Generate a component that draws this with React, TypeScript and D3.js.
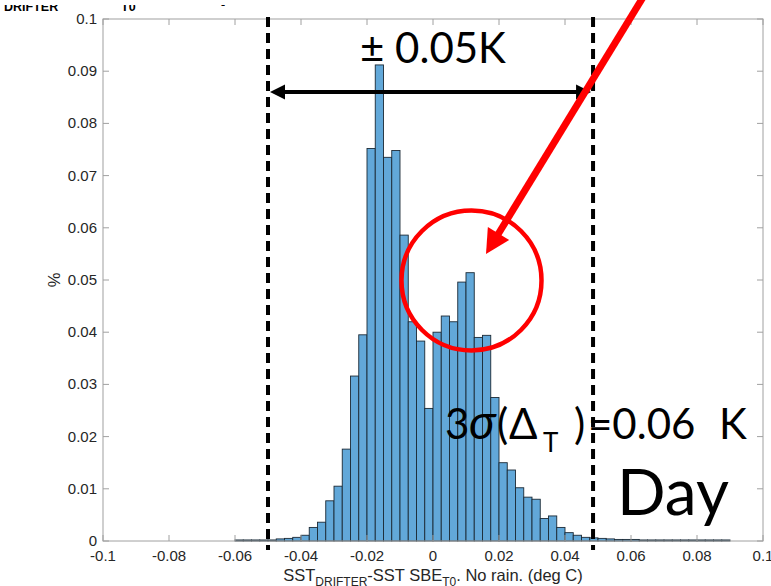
import React from 'react';
import * as d3 from 'd3';

const binStarts = [
  -0.06, -0.0575, -0.055, -0.0525, -0.05, -0.0475, -0.045, -0.0425, -0.04, -0.0375,
  -0.035, -0.0325, -0.03, -0.0275, -0.025, -0.0225, -0.02, -0.0175, -0.015, -0.0125,
  -0.01, -0.0075, -0.005, -0.0025, 0, 0.0025, 0.005, 0.0075, 0.01, 0.0125,
  0.015, 0.0175, 0.02, 0.0225, 0.025, 0.0275, 0.03, 0.0325, 0.035, 0.0375,
  0.04, 0.0425, 0.045, 0.0475, 0.05, 0.0525, 0.055, 0.0575, 0.06, 0.0625,
  0.065, 0.0675, 0.07, 0.0725, 0.075, 0.0775, 0.08, 0.0825, 0.085, 0.0875,
];
const binWidth = 0.0025;
const percentValues = [
  0.0002, 0.0002, 0.0002, 0.0002, 0.0002, 0.0004, 0.0005, 0.0007, 0.0011, 0.0026,
  0.0036, 0.0077, 0.0105, 0.0176, 0.0316, 0.0395, 0.0752, 0.0912, 0.0735, 0.0748,
  0.0586, 0.042, 0.0383, 0.0254, 0.04, 0.0431, 0.042, 0.0496, 0.0514, 0.039,
  0.0394, 0.0275, 0.015, 0.0136, 0.0102, 0.0084, 0.008, 0.0043, 0.0048, 0.0026,
  0.0016, 0.0011, 0.0007, 0.0006, 0.0005, 0.0004, 0.0003, 0.0003, 0.0003, 0.0002,
  0.0002, 0.0002, 0.0002, 0.0002, 0.0002, 0.0002, 0.0002, 0.0002, 0.0002, 0.0002,
];
const xTicks = [-0.1, -0.08, -0.06, -0.04, -0.02, 0, 0.02, 0.04, 0.06, 0.08, 0.1];
const xTickLabels = ['-0.1', '-0.08', '-0.06', '-0.04', '-0.02', '0', '0.02', '0.04', '0.06', '0.08', '0.1'];
const yTicks = [0, 0.01, 0.02, 0.03, 0.04, 0.05, 0.06, 0.07, 0.08, 0.09, 0.1];
const yTickLabels = ['0', '0.01', '0.02', '0.03', '0.04', '0.05', '0.06', '0.07', '0.08', '0.09', '0.1'];
const limitLines = [-0.05, 0.0485];

const W = 771;
const H = 586;
const L = 103, R = 763, T = 19, B = 541;

export default function App() {
  const x = d3.scaleLinear().domain([-0.1, 0.1]).range([L, R]);
  const y = d3.scaleLinear().domain([0, 0.1]).range([B, T]);
  const tickFont = "'Liberation Sans', Arial, Helvetica, sans-serif";
  const annFont = "Lato, 'Open Sans', sans-serif";
  const frame = '#a0a0a0';
  const tickLen = 6;

  // red arrow geometry
  const rStart: [number, number] = [645, -6];
  const rTip: [number, number] = [486, 254];
  const dx = rTip[0] - rStart[0], dy = rTip[1] - rStart[1];
  const len = Math.hypot(dx, dy);
  const ux = dx / len, uy = dy / len;
  const headL = 24, headW = 12.5;
  const base: [number, number] = [rTip[0] - ux * headL, rTip[1] - uy * headL];
  const p1 = [base[0] - uy * headW, base[1] + ux * headW];
  const p2 = [base[0] + uy * headW, base[1] - ux * headW];

  const ay = 92;
  const ax1 = x(limitLines[0]) + 2;
  const ax2 = x(limitLines[1]) - 2;
  const ahL = 15, ahW = 7.5;

  return (
    <svg width={W} height={H} style={{ position: 'absolute', left: 0, top: 0, background: '#fff' }}>
      <rect x={0} y={0} width={W} height={H} fill="#fff" />
      {/* title remnants cut at top */}
      <g fontFamily={tickFont} fontWeight="bold" fill="#000">
        <text x={4} y={11} fontSize={12.5}>DRIFTER</text>
        <text x={121} y={11} fontSize={12.5}>T0</text>
        <text x={221} y={9} fontSize={12.5}>-</text>
      </g>
      <rect x={0} y={0} width={W} height={5} fill="#fff" />

      {/* bars */}
      <g>
        {binStarts.map((b, i) => (
          <rect
            key={i}
            x={x(b)}
            y={y(percentValues[i])}
            width={x(b + binWidth) - x(b)}
            height={y(0) - y(percentValues[i])}
            fill="#62a8d9"
            stroke="#1c2a36"
            strokeWidth={0.9}
          />
        ))}
      </g>

      {/* frame */}
      <rect x={L} y={T} width={R - L} height={B - T} fill="none" stroke={frame} strokeWidth={1} />
      <g stroke={frame} strokeWidth={1}>
        {xTicks.map((t, i) => (
          <g key={i}>
            <line x1={x(t)} x2={x(t)} y1={B} y2={B - tickLen} />
            <line x1={x(t)} x2={x(t)} y1={T} y2={T + tickLen} />
          </g>
        ))}
        {yTicks.map((t, i) => (
          <g key={i}>
            <line x1={L} x2={L + tickLen} y1={y(t)} y2={y(t)} />
            <line x1={R} x2={R - tickLen} y1={y(t)} y2={y(t)} />
          </g>
        ))}
      </g>
      <g fontFamily={tickFont} fontSize={15} fill="#262626">
        {xTicks.map((t, i) => (
          <text key={i} x={x(t)} y={561} textAnchor="middle">{xTickLabels[i]}</text>
        ))}
        {yTicks.map((t, i) => (
          <text key={i} x={97} y={y(t) + 5} textAnchor="end">{yTickLabels[i]}</text>
        ))}
      </g>
      <text
        transform={`translate(60, ${(T + B) / 2}) rotate(-90)`}
        textAnchor="middle"
        fontFamily={tickFont}
        fontSize={16.5}
        fill="#262626"
      >%</text>
      <text x={433} y={581} textAnchor="middle" fontFamily={tickFont} fontSize={16.5} fill="#262626">
        SST<tspan fontSize={12} dy={5}>DRIFTER</tspan>
        <tspan dy={-5}>-SST SBE</tspan>
        <tspan fontSize={12} dy={5}>T0</tspan>
        <tspan dy={-5}>. No rain. (deg C)</tspan>
      </text>

      {/* dashed limit lines */}
      {limitLines.map((v, i) => (
        <line key={i} x1={x(v)} x2={x(v)} y1={17} y2={550} stroke="#000" strokeWidth={4} strokeDasharray="10,6" />
      ))}

      {/* double arrow */}
      <line x1={ax1 + ahL - 2} x2={ax2 - ahL + 2} y1={ay} y2={ay} stroke="#000" strokeWidth={4} />
      <path d={`M${ax1},${ay} L${ax1 + ahL},${ay - ahW} L${ax1 + ahL},${ay + ahW} Z`} fill="#000" />
      <path d={`M${ax2},${ay} L${ax2 - ahL},${ay - ahW} L${ax2 - ahL},${ay + ahW} Z`} fill="#000" />
      <text x={360} y={63} fontFamily={annFont} fontSize={42} fill="#000">± 0.05K</text>

      {/* red circle + arrow */}
      <circle cx={471.5} cy={280.5} r={70} fill="none" stroke="#ff0000" strokeWidth={4.5} />
      <line x1={rStart[0]} y1={rStart[1]} x2={base[0] + ux * 2} y2={base[1] + uy * 2} stroke="#ff0000" strokeWidth={7} />
      <path d={`M${rTip[0]},${rTip[1]} L${p1[0]},${p1[1]} L${p2[0]},${p2[1]} Z`} fill="#ff0000" />

      {/* annotations */}
      <g fontFamily={annFont} fill="#000">
        <text x={445} y={439} fontSize={42}>3</text>
        <text x={469} y={439} fontSize={48} fontStyle="italic">σ</text>
        <text x={497} y={439} fontSize={42}>(</text>
        <text x={509} y={439} fontSize={42}>Δ</text>
        <text x={543} y={452} fontSize={26}>T</text>
        <text x={574} y={439} fontSize={42}>)</text>
        <text x={588} y={439} fontSize={42}>=0.06</text>
        <text x={719} y={439} fontSize={42}>K</text>
        <text x={617} y={515} fontSize={64}>Day</text>
      </g>
    </svg>
  );
}
